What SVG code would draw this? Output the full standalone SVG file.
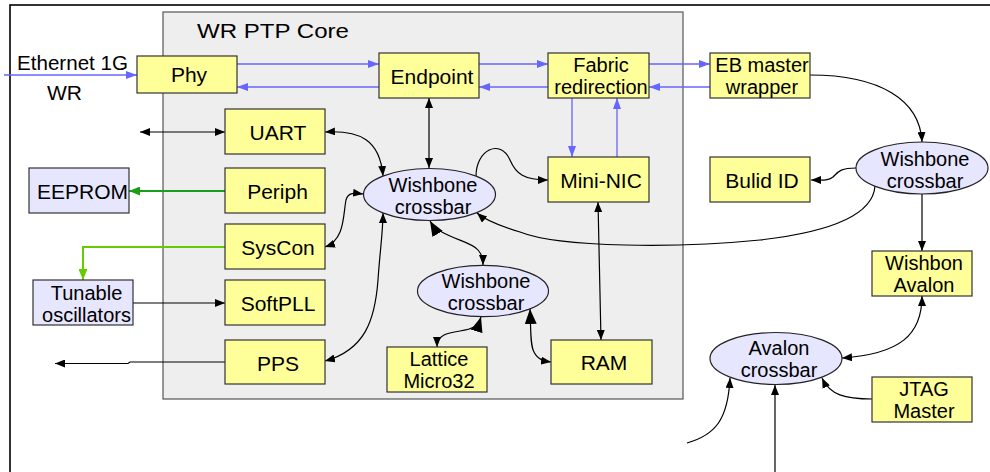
<svg xmlns="http://www.w3.org/2000/svg" width="990" height="472" viewBox="0 0 990 472">
  <style>
    text { font-family: "Liberation Sans", Arial, sans-serif; font-size: 21px; fill: #000; }
    .c { text-anchor: middle; }
    .two { font-size: 20px; }
    .box { fill: #ffff99; stroke: #333; stroke-width: 1.2; }
    .ext { fill: #e6e6ff; stroke: #333; stroke-width: 1.2; }
    .xbar { fill: #e6e6ff; stroke: #222; stroke-width: 1.2; }
    .blk { fill: none; stroke: #000; stroke-width: 1.2; }
    .blu { fill: none; stroke: #6666ff; stroke-width: 1.3; }
    .grn { fill: none; stroke: #1a9e1a; stroke-width: 2; }
    .lgr { fill: none; stroke: #66cc00; stroke-width: 2; }
  </style>
  <defs>
    <marker id="ah" viewBox="0 0 10 8" markerWidth="10" markerHeight="8" refX="10" refY="4" markerUnits="userSpaceOnUse" orient="auto-start-reverse">
      <path d="M0,0 L10,4 L0,8 z" fill="#000"/>
    </marker>
    <marker id="ahBig" viewBox="0 0 15 12" markerWidth="15" markerHeight="12" refX="15" refY="6" markerUnits="userSpaceOnUse" orient="auto-start-reverse">
      <path d="M0,0 L15,6 L0,12 z" fill="#000"/>
    </marker>
    <marker id="ahBlue" viewBox="0 0 11 8" markerWidth="11" markerHeight="8" refX="11" refY="4" markerUnits="userSpaceOnUse" orient="auto">
      <path d="M0,0 L11,4 L0,8 z" fill="#6666ff"/>
    </marker>
    <marker id="ahGreen" viewBox="0 0 11 9" markerWidth="11" markerHeight="9" refX="11" refY="4.5" markerUnits="userSpaceOnUse" orient="auto">
      <path d="M0,0 L11,4.5 L0,9 z" fill="#1a9e1a"/>
    </marker>
    <marker id="ahLGreen" viewBox="0 0 11 9" markerWidth="11" markerHeight="9" refX="11" refY="4.5" markerUnits="userSpaceOnUse" orient="auto">
      <path d="M0,0 L11,4.5 L0,9 z" fill="#66cc00"/>
    </marker>
  </defs>

  <rect width="990" height="472" fill="#fff"/>
  <!-- board outline -->
  <rect id="board" x="10" y="5" width="1000" height="500" fill="none" stroke="#000" stroke-width="1.6"/>

  <!-- WR PTP core area -->
  <g id="core">
    <rect x="163" y="12" width="520" height="387" fill="#eeeeee" stroke="#555" stroke-width="1.2"/>
    <text x="197" y="37.5" font-size="24" textLength="152" lengthAdjust="spacingAndGlyphs">WR PTP Core</text>
  </g>

  <g id="labels">
    <text x="17" y="70" font-size="20" textLength="111" lengthAdjust="spacingAndGlyphs">Ethernet 1G</text>
    <text x="47" y="100" font-size="23">WR</text>
  </g>

  <!-- connectors -->
  <g id="connectors">
    <!-- packet datapath -->
    <path class="blu" d="M4,75 L137,75" marker-end="url(#ahBlue)"/>
    <path class="blu" d="M237,64 L379,64" marker-end="url(#ahBlue)"/>
    <path class="blu" d="M379,87 L237,87" marker-end="url(#ahBlue)"/>
    <path class="blu" d="M479,64 L548,64" marker-end="url(#ahBlue)"/>
    <path class="blu" d="M548,87 L479,87" marker-end="url(#ahBlue)"/>
    <path class="blu" d="M649,64 L710,64" marker-end="url(#ahBlue)"/>
    <path class="blu" d="M710,87 L649,87" marker-end="url(#ahBlue)"/>
    <path class="blu" d="M572,98 L572,157" marker-end="url(#ahBlue)"/>
    <path class="blu" d="M617,157 L617,98" marker-end="url(#ahBlue)"/>

    <!-- core bus -->
    <path class="blk" d="M140,132 L225,132" marker-start="url(#ah)" marker-end="url(#ah)"/>
    <path class="blk" d="M325,132 C360,130 380,140 383,176" marker-start="url(#ah)" marker-end="url(#ah)"/>
    <path class="blk" d="M429,98 L429,168" marker-start="url(#ah)" marker-end="url(#ah)"/>
    <path class="blk" d="M476,176 C476,150 500,138 510,160 C516,174 524,180 548,180" marker-end="url(#ah)"/>
    <path class="grn" d="M225,191 L129,191" marker-end="url(#ahGreen)"/>
    <path class="lgr" d="M225,247 L83,247 L83,280" marker-end="url(#ahLGreen)"/>
    <path class="blk" d="M133,303 L225,303" marker-end="url(#ah)"/>
    <path class="blk" d="M325,247 C345,240 343,215 346,200 C348,192 355,193 363,194" marker-start="url(#ah)" marker-end="url(#ah)"/>
    <path class="blk" d="M225,362 L130,362 L128,363.5 L55,363.5" marker-end="url(#ah)"/>
    <path class="blk" d="M325,361 C365,350 375,320 378,280 C380,250 383,232 383,213" marker-start="url(#ah)" marker-end="url(#ah)"/>
    <path class="blk" d="M430,221 C440,238 470,240 478,250 C483,256 483,260 483,265" marker-start="url(#ahBig)" marker-end="url(#ah)"/>
    <path class="blk" d="M437,347 C437,335 447,333 460,331 C472,329 478,327 481,317" marker-start="url(#ah)" marker-end="url(#ahBig)"/>
    <path class="blk" d="M530,309 C531,330 530,345 534,352 C538,360 544,361 551,362" marker-start="url(#ahBig)" marker-end="url(#ah)"/>
    <path class="blk" d="M598,202 L601,340" marker-start="url(#ah)" marker-end="url(#ah)"/>

    <!-- external bus -->
    <path class="blk" d="M875,186 C873,215 830,232 760,240 C680,248 560,248 520,232 C500,226 485,220 477,213" marker-end="url(#ah)"/>
    <path class="blk" d="M810,75 C880,75 920,100 922,142" marker-end="url(#ah)"/>
    <path class="blk" d="M856,168 C840,168 838,172 833,177 C828,181 822,180 811,180" marker-end="url(#ah)"/>
    <path class="blk" d="M922,194 L922,251" marker-end="url(#ah)"/>
    <path class="blk" d="M922,296 C922,335 900,354 842,358" marker-start="url(#ah)" marker-end="url(#ah)"/>
    <path class="blk" d="M872,399 C845,399 830,395 822,378" marker-end="url(#ah)"/>
    <path class="blk" d="M775,472 L775,385" marker-end="url(#ah)"/>
    <path class="blk" d="M687,443 C715,435 728,420 730,378" marker-end="url(#ah)"/>
  </g>

  <!-- nodes -->
  <g id="phy"><rect class="box" x="137" y="56" width="100" height="37"/><text class="c" x="189" y="82">Phy</text></g>
  <g id="endpoint"><rect class="box" x="379" y="53" width="100" height="45"/><text class="c" x="432" y="83.5">Endpoint</text></g>
  <g id="fabric-redirection" class="two"><rect class="box" x="548" y="53" width="101" height="45"/><text class="c two" x="601" y="72">Fabric</text><text class="c two" x="601" y="94">redirection</text></g>
  <g id="eb-master-wrapper"><rect class="box" x="710" y="53" width="100" height="45"/><text class="c two" x="762" y="72">EB master</text><text class="c two" x="762" y="94">wrapper</text></g>
  <g id="uart"><rect class="box" x="225" y="109" width="100" height="45"/><text class="c" x="278" y="139.5">UART</text></g>
  <g id="mini-nic"><rect class="box" x="548" y="157" width="101" height="45"/><text class="c" x="601" y="188">Mini-NIC</text></g>
  <g id="build-id"><rect class="box" x="710" y="157" width="100" height="45"/><text class="c" x="762" y="188">Bulid ID</text></g>
  <g id="eeprom"><rect class="ext" x="29" y="168" width="100" height="45"/><text class="c" x="82.5" y="198.5">EEPROM</text></g>
  <g id="periph"><rect class="box" x="225" y="168" width="100" height="45"/><text class="c" x="277.5" y="198.5">Periph</text></g>
  <g id="syscon"><rect class="box" x="225" y="224" width="100" height="45"/><text class="c" x="278" y="254.5">SysCon</text></g>
  <g id="tunable-oscillators"><rect class="ext" x="33" y="280" width="100" height="45"/><text class="c two" x="86.5" y="300">Tunable</text><text class="c two" x="86.5" y="322">oscillators</text></g>
  <g id="softpll"><rect class="box" x="225" y="280" width="100" height="45"/><text class="c" x="278" y="311">SoftPLL</text></g>
  <g id="pps"><rect class="box" x="225" y="340" width="100" height="44"/><text class="c" x="278" y="370.5">PPS</text></g>
  <g id="lattice-micro32"><rect class="box" x="387" y="347" width="100" height="45"/><text class="c two" x="439" y="366">Lattice</text><text class="c two" x="439" y="388">Micro32</text></g>
  <g id="ram"><rect class="box" x="551" y="340" width="101" height="44"/><text class="c" x="604" y="370">RAM</text></g>
  <g id="wishbone-avalon"><rect class="box" x="872" y="251" width="100" height="45"/><text class="c two" x="924" y="270">Wishbon</text><text class="c two" x="924" y="292">Avalon</text></g>
  <g id="jtag-master"><rect class="box" x="872" y="377" width="100" height="45"/><text class="c two" x="924" y="396">JTAG</text><text class="c two" x="924" y="418">Master</text></g>

  <g id="core-crossbar"><ellipse class="xbar" cx="429.5" cy="194.5" rx="66" ry="26"/><text class="c two" x="433" y="192">Wishbone</text><text class="c two" x="433" y="214">crossbar</text></g>
  <g id="cpu-crossbar"><ellipse class="xbar" cx="483" cy="291" rx="65.5" ry="25.7"/><text class="c two" x="486" y="288">Wishbone</text><text class="c two" x="486" y="310">crossbar</text></g>
  <g id="ext-crossbar"><ellipse class="xbar" cx="922" cy="168" rx="66" ry="26"/><text class="c two" x="925" y="165.5">Wishbone</text><text class="c two" x="925" y="187.5">crossbar</text></g>
  <g id="avalon-crossbar"><ellipse class="xbar" cx="776" cy="358.5" rx="66" ry="26"/><text class="c two" x="779" y="355">Avalon</text><text class="c two" x="779" y="377">crossbar</text></g>
</svg>
